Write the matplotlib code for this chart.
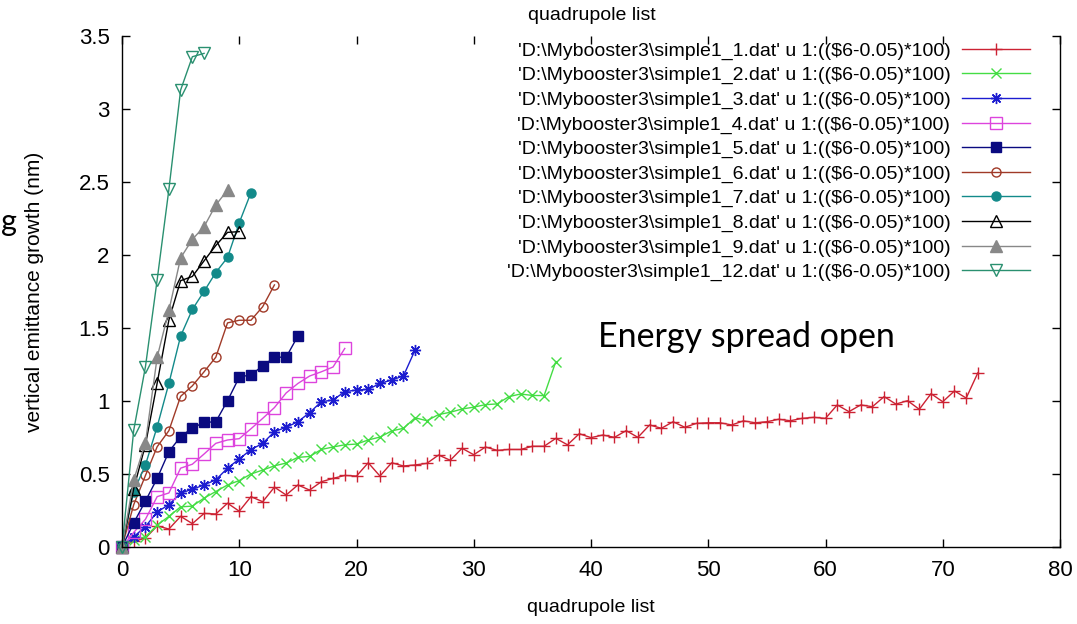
import matplotlib
matplotlib.use('Agg')
import matplotlib.pyplot as plt
from matplotlib import font_manager
from matplotlib.ticker import FuncFormatter

# ---------------- data ----------------
y1 = [0, 0.04, 0.06, 0.145, 0.123, 0.21, 0.16, 0.23, 0.226, 0.30,
      0.245, 0.345, 0.31, 0.41, 0.356, 0.425, 0.39, 0.447, 0.47, 0.49,
      0.486, 0.577, 0.486, 0.577, 0.555, 0.562, 0.573, 0.63, 0.594, 0.676,
      0.632, 0.685, 0.662, 0.668, 0.668, 0.69, 0.69, 0.744, 0.70, 0.776,
      0.749, 0.767, 0.751, 0.797, 0.751, 0.836, 0.813, 0.858, 0.82, 0.847,
      0.851, 0.851, 0.836, 0.864, 0.851, 0.858, 0.875, 0.865, 0.881, 0.888,
      0.881, 0.973, 0.927, 0.973, 0.961, 1.03, 0.979, 1.002, 0.943, 1.05,
      0.995, 1.069, 1.02, 1.194]
y2 = [0, 0.05, 0.07, 0.15, 0.21, 0.275, 0.28, 0.335, 0.38, 0.425,
      0.455, 0.5, 0.527, 0.556, 0.575, 0.614, 0.62, 0.668, 0.685, 0.7,
      0.705, 0.733, 0.753, 0.795, 0.813, 0.885, 0.865, 0.907, 0.923, 0.945,
      0.958, 0.975, 0.98, 1.03, 1.048, 1.038, 1.037, 1.27]
y3 = [0, 0.07, 0.14, 0.24, 0.29, 0.37, 0.395, 0.425, 0.46, 0.54,
      0.603, 0.667, 0.71, 0.79, 0.82, 0.858, 0.92, 0.995, 1.007, 1.064,
      1.075, 1.08, 1.12, 1.144, 1.171, 1.35]
y4 = [0, 0.1, 0.19, 0.345, 0.37, 0.54, 0.567, 0.637, 0.71, 0.733,
      0.742, 0.81, 0.881, 0.955, 1.055, 1.12, 1.171, 1.2, 1.233, 1.36]
y5 = [0, 0.165, 0.315, 0.47, 0.653, 0.756, 0.815, 0.853, 0.858, 1.002,
      1.163, 1.18, 1.24, 1.3, 1.3, 1.445]
y6 = [0, 0.29, 0.49, 0.687, 0.797, 1.032, 1.104, 1.2, 1.3, 1.535,
      1.553, 1.553, 1.646, 1.795]
y7 = [0, 0.38, 0.562, 0.824, 1.121, 1.445, 1.627, 1.751, 1.88, 1.983,
      2.221, 2.427]
y8 = [0, 0.4, 0.7, 1.123, 1.555, 1.824, 1.853, 1.96, 2.065, 2.155, 2.16]
y9 = [0, 0.459, 0.715, 1.3, 1.62, 1.98, 2.107, 2.194, 2.342, 2.445]
y12 = [0, 0.8, 1.235, 1.831, 2.45, 3.13, 3.358, 3.381]

file_ids = ['1', '2', '3', '4', '5', '6', '7', '8', '9', '12']
series = [y1, y2, y3, y4, y5, y6, y7, y8, y9, y12]
labels = ["'D:\\Mybooster3\\simple1_%s.dat' u 1:(($6-0.05)*100)" % f for f in file_ids]

x_ticks = [0, 10, 20, 30, 40, 50, 60, 70, 80]
y_ticks = [0, 0.5, 1, 1.5, 2, 2.5, 3, 3.5]

# ---------------- styles ----------------
colors = ['#cc2233', '#44dd44', '#1c1cd0', '#dd44dd', '#0a0a80',
          '#a03a28', '#138a8a', '#000000', '#888888', '#2a9070']
markers = ['+', 'x', (8, 2, 0), 's', 's', 'o', 'o', '^', '^', 'v']
filled = [True, True, True, False, True, False, True, False, True, False]
msizes = [9, 7, 8, 8, 7.5, 6.5, 6.5, 8, 8, 8.5]

avail = {f.name for f in font_manager.fontManager.ttflist}
main_font = 'Liberation Sans Narrow' if 'Liberation Sans Narrow' in avail else 'Liberation Sans'
plt.rcParams['font.family'] = [main_font, 'DejaVu Sans']

W, H = 1077, 624
fig = plt.figure(figsize=(W / 100, H / 100), dpi=100)
ax_left, ax_right, ax_top, ax_bottom = 122, 1060, 36, 547
ax = fig.add_axes([ax_left / W, (H - ax_bottom) / H,
                   (ax_right - ax_left) / W, (ax_bottom - ax_top) / H])

for y, lab, c, m, f, ms in zip(series, labels, colors, markers, filled, msizes):
    xs = list(range(len(y)))
    ax.plot(xs, y, color=c, lw=1.0, marker=m, ms=ms,
            mfc=c if f else 'none', mec=c, mew=1.0, label=lab, clip_on=False)

ax.set_xlim(x_ticks[0], x_ticks[-1])
ax.set_ylim(y_ticks[0], y_ticks[-1])
ax.set_xticks(x_ticks)
ax.set_yticks(y_ticks)
ax.yaxis.set_major_formatter(FuncFormatter(lambda v, p: '%g' % v))
ax.tick_params(direction='in', top=True, right=True, length=6, width=1,
               labelsize=16, pad=9)
ax.spines['top'].set_visible(False)
for s in ['left', 'right', 'bottom']:
    ax.spines[s].set_linewidth(1.0)

ax.set_xlabel('quadrupole list', fontsize=14, va='center')
ax.xaxis.set_label_coords(0.5, (ax_bottom - 608) / (ax_bottom - ax_top))
ax.set_ylabel('vertical emittance growth (nm)', fontsize=15, va='center')
ax.yaxis.set_label_coords((35 - ax_left) / (ax_right - ax_left), 0.5)

fig.text(592 / W, 1 - 15 / H, 'quadrupole list', fontsize=14,
         ha='center', va='center')

leg = ax.legend(loc='upper right', markerfirst=False, frameon=False,
                fontsize=14, handlelength=3.5, handletextpad=0.6,
                labelspacing=0.35, borderpad=0, borderaxespad=0,
                bbox_to_anchor=((1030 - ax_left) / (ax_right - ax_left),
                                (ax_bottom - 42) / (ax_bottom - ax_top)))

fig.text(598 / W, 1 - 347 / H, 'Energy spread open', fontsize=24.5,
         family=['Lato', 'DejaVu Sans'], ha='left', va='baseline')
fig.text(1 / W, 1 - 222 / H, 'g', fontsize=22,
         family=['Lato', 'DejaVu Sans'], ha='left', va='center')

fig.savefig('out.png', dpi=100)
